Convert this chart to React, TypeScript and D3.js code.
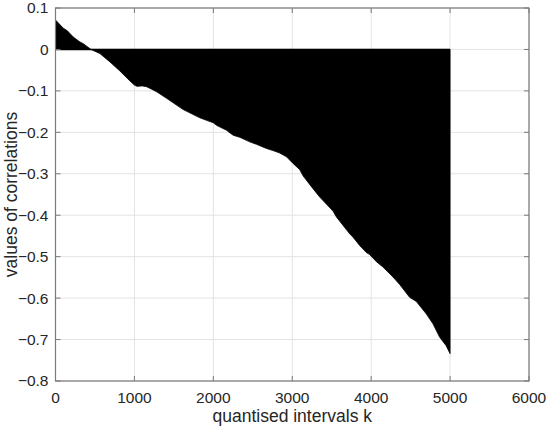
import React from "react";
import * as d3 from "d3";

// correlation values (k, value)
const kValues = [
  0, 100, 150, 225, 310, 352, 450, 563, 690, 816, 943, 1000, 1030, 1100, 1154, 1200,
  1281, 1408, 1618, 1829, 2000, 2040, 2167, 2251, 2335, 2462, 2547, 2673, 2757, 2842,
  2927, 3010, 3095, 3137, 3263, 3348, 3516, 3559, 3728, 3770, 3854, 3939, 3981, 4066,
  4149, 4276, 4361, 4487, 4572, 4698, 4783, 4867, 4950, 5000,
];
const corrValues = [
  0.071, 0.051, 0.045, 0.03, 0.018, 0.014, 0.0, -0.01, -0.03, -0.052, -0.076, -0.086,
  -0.089, -0.088, -0.09, -0.094, -0.102, -0.118, -0.145, -0.165, -0.177, -0.183, -0.195,
  -0.207, -0.212, -0.223, -0.229, -0.239, -0.244, -0.25, -0.259, -0.275, -0.29, -0.305,
  -0.336, -0.356, -0.39, -0.404, -0.445, -0.453, -0.473, -0.49, -0.495, -0.512, -0.525,
  -0.549, -0.567, -0.598, -0.608, -0.638, -0.662, -0.694, -0.715, -0.734,
];
const xTicks = [0, 1000, 2000, 3000, 4000, 5000, 6000];
const yTicks = [0.1, 0, -0.1, -0.2, -0.3, -0.4, -0.5, -0.6, -0.7, -0.8];

const width = 550;
const height = 433;
const margin = { top: 8, right: 21, bottom: 52, left: 55.5 };
const axisColor = "#7a7a7a";
const textColor = "#262626";
const font = "'Liberation Sans', Arial, sans-serif";

export default function App() {
  const x = d3
    .scaleLinear()
    .domain([0, 6000])
    .range([margin.left, width - margin.right]);
  const y = d3
    .scaleLinear()
    .domain([-0.8, 0.1])
    .range([height - margin.bottom, margin.top]);

  const points = kValues.map((k, i) => ({ k, v: corrValues[i] }));
  const area = d3
    .area<{ k: number; v: number }>()
    .x((d) => x(d.k))
    .y0(y(0))
    .y1((d) => y(d.v));

  const fmt = (t: number) => (t === 0 ? "0" : String(t).replace("-", "\u2212"));

  return (
    <svg
      width={width}
      height={height}
      style={{ position: "absolute", left: 0, top: 0, background: "white" }}
    >
      {/* grid */}
      <g stroke="#e3e3e3" strokeWidth={1}>
        {xTicks.map((t) => (
          <line key={"gx" + t} x1={x(t)} x2={x(t)} y1={y(0.1)} y2={y(-0.8)} />
        ))}
        {yTicks.map((t) => (
          <line key={"gy" + t} x1={x(0)} x2={x(6000)} y1={y(t)} y2={y(t)} />
        ))}
      </g>

      {/* stems as filled area */}
      <path d={area(points) || ""} fill="black" stroke="black" strokeWidth={0.8} />
      <line x1={x(0)} x2={x(5000)} y1={y(0)} y2={y(0)} stroke="black" strokeWidth={1.5} />

      {/* box and ticks */}
      <rect
        x={x(0)}
        y={y(0.1)}
        width={x(6000) - x(0)}
        height={y(-0.8) - y(0.1)}
        fill="none"
        stroke={axisColor}
        strokeWidth={1.2}
      />
      <g stroke={axisColor} strokeWidth={1}>
        {xTicks.map((t) => (
          <g key={"tx" + t}>
            <line x1={x(t)} x2={x(t)} y1={y(-0.8)} y2={y(-0.8) - 5} />
            <line x1={x(t)} x2={x(t)} y1={y(0.1)} y2={y(0.1) + 5} />
          </g>
        ))}
        {yTicks.map((t) => (
          <g key={"ty" + t}>
            <line x1={x(0)} x2={x(0) + 5} y1={y(t)} y2={y(t)} />
            <line x1={x(6000)} x2={x(6000) - 5} y1={y(t)} y2={y(t)} />
          </g>
        ))}
      </g>

      {/* tick labels */}
      <g fill={textColor} fontFamily={font} fontSize={15.5}>
        {xTicks.map((t) => (
          <text key={"lx" + t} x={x(t)} y={y(-0.8) + 22} textAnchor="middle">
            {t}
          </text>
        ))}
        {yTicks.map((t) => (
          <text key={"ly" + t} x={x(0) - 7} y={y(t)} dy="0.35em" textAnchor="end">
            {fmt(t)}
          </text>
        ))}
      </g>

      {/* axis labels */}
      <text
        x={(x(0) + x(6000)) / 2}
        y={height - 11}
        textAnchor="middle"
        fill={textColor}
        fontFamily={font}
        fontSize={17.5}
      >
        quantised intervals k
      </text>
      <text
        transform={`translate(${17},${(y(0.1) + y(-0.8)) / 2}) rotate(-90)`}
        textAnchor="middle"
        fill={textColor}
        fontFamily={font}
        fontSize={17.5}
      >
        values of correlations
      </text>
    </svg>
  );
}
